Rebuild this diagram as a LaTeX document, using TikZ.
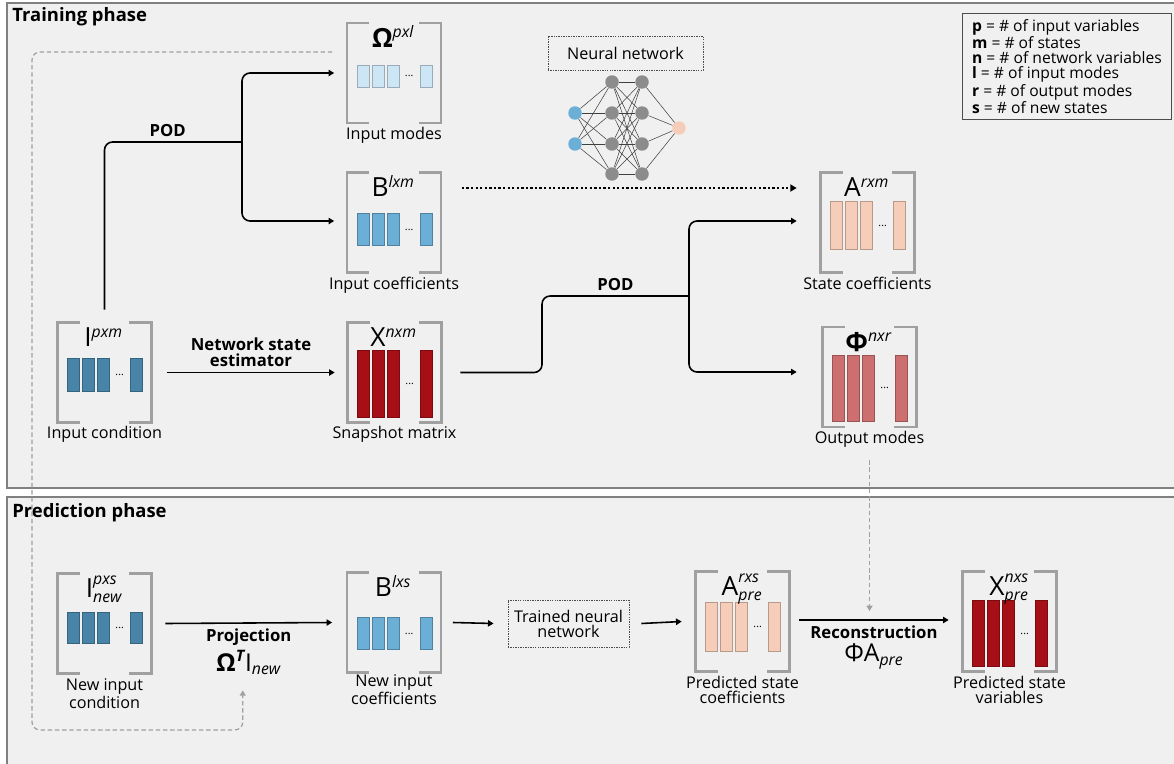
\documentclass[tikz,border=0pt]{standalone}
\usepackage{fontspec}
\setmainfont{Open Sans}
\usepackage[dvipsnames]{xcolor}
\usetikzlibrary{arrows.meta}
\usetikzlibrary{positioning}
\usetikzlibrary{calc}

\definecolor{panelgray}{HTML}{F0F0F0}
\definecolor{panelline}{HTML}{808080}
\definecolor{brktgray}{HTML}{A0A0A0}
\definecolor{modeblue}{HTML}{CDE6F6}
\definecolor{coefblue}{HTML}{6BAED6}
\definecolor{inpblue}{HTML}{4884A8}
\definecolor{snapred}{HTML}{A50F15}
\definecolor{statepeach}{HTML}{F5CDB8}
\definecolor{outred}{HTML}{CD6F6F}
\definecolor{neurongray}{HTML}{8C8C8C}
\definecolor{fbgray}{HTML}{A0A0A0}

\tikzset{
  panel/.style = {fill=panelgray, draw=panelline, line width=0.7pt},
  title/.style = {inner sep=0pt, font=\bfseries\fontsize{10.5}{12}\selectfont},
  mtx/.style = {minimum width=1.86cm, minimum height=1.98cm, inner sep=0pt},
  brkt/.style = {draw=brktgray, line width=1.4pt},
  col/.style = {fill=#1, draw=#1!75!black, line width=0.3pt},
  dots/.style = {inner sep=0pt, font=\fontsize{6}{6}\selectfont},
  mtxlabel/.style = {anchor=base, inner sep=0pt, font=\fontsize{15}{15}\selectfont},
  captxt/.style = {inner sep=0pt, align=center, font=\fontsize{9.2}{8.5}\selectfont},
  steptxt/.style = {inner sep=0pt, align=center, font=\bfseries\fontsize{9.5}{9}\selectfont},
  eqtxt/.style = {inner sep=0pt, font=\fontsize{14}{14}\selectfont},
  conn/.style = {draw=black, line width=0.9pt, rounded corners=0.16cm},
  arr/.style = {conn, -{Triangle[length=3.2pt,width=3.6pt]}},
  nnarr/.style = {draw=black, line width=1.3pt, dash pattern=on 1.3pt off 1.3pt,
                  -{Triangle[length=3.6pt,width=4pt]}},
  fb/.style = {draw=fbgray, line width=0.7pt, dash pattern=on 2.5pt off 1.6pt,
               rounded corners=0.16cm, -{Triangle[length=3pt,width=3.4pt]}},
  nnbox/.style = {draw=black!70, line width=0.5pt, dash pattern=on 0.8pt off 0.6pt,
                  align=center, font=\fontsize{9.2}{8.5}\selectfont},
  neuron/.style = {circle, fill=#1, inner sep=0pt, minimum size=0.27cm},
  nnline/.style = {draw=black!75, line width=0.3pt},
  keybox/.style = {draw=black!70, fill=panelgray, line width=0.6pt, align=left,
                   font=\fontsize{8.9}{8.5}\selectfont, minimum width=4.18cm,
                   minimum height=2.1cm, inner xsep=0.12cm},
}

\newcommand{\sx}[1]{\mbox{\fontsize{9}{9}\selectfont\itshape #1}}
% superscript over subscript, by hand
\newcommand{\supsub}[2]{\rlap{\raisebox{7.5pt}{\sx{#1}}}\raisebox{-2.5pt}{\sx{#2}}}
% matrix: name, position, column colour, column top, column bottom, label
\newcommand{\mtxbox}[6]{%
  \node[mtx] (#1) at #2 {};
  \draw[brkt] ([xshift=.44cm]#1.north west) -- (#1.north west) -- (#1.south west) -- ([xshift=.44cm]#1.south west);
  \draw[brkt] ([xshift=-.44cm]#1.north east) -- (#1.north east) -- (#1.south east) -- ([xshift=-.44cm]#1.south east);
  \foreach \cx in {10,25,40,73}
    \draw[col=#3] ($(#1.north west)+(\cx,#4)$) rectangle ++(12,#5-#4);
  \node[dots] at ($(#1.north west)+(62,{(#4+#5)/2})$) {...};
  \node[mtxlabel] at ($(#1.north west)+(46,24)$) {#6};
}

\begin{document}
\begin{tikzpicture}[x=0.02cm, y=-0.02cm]

  \useasboundingbox (0,0) rectangle (1174,764);
  \clip (0,0) rectangle (1174,764);

  % panels
  \draw[panel] (7,3) rectangle (1200,488);
  \draw[panel] (7,497) rectangle (1200,790);
  \node[title, anchor=base west] (trainttl) at (12,21) {Training phase};
  \node[title, anchor=base west] (predttl) at (12,517) {Prediction phase};

  % training phase
  \mtxbox{omega}{(394,73)}{modeblue}{42}{64}{\textbf{Ω}$^{\sx{pxl}}$}
  \mtxbox{bcoef}{(394,222.5)}{coefblue}{41}{73}{B$^{\sx{lxm}}$}
  \mtxbox{inp}{(104.5,372.5)}{inpblue}{36}{69}{I$^{\sx{pxm}}$}
  \mtxbox{snap}{(394.5,372.5)}{snapred}{28}{95}{X$^{\sx{nxm}}$}
  \mtxbox{acoef}{(867.5,222.5)}{statepeach}{29}{77}{A$^{\sx{rxm}}$}
  \mtxbox{phi}{(869.5,377)}{outred}{28}{94}{\textbf{Φ}$^{\sx{nxr}}$}

  \node[captxt, below=0.08cm of omega] (omegacap) {Input modes};
  \node[captxt, below=0.08cm of bcoef] (bcoefcap) {Input coefficients};
  \node[captxt, below=0.08cm of inp] (inpcap) {Input condition};
  \node[captxt, below=0.08cm of snap] (snapcap) {Snapshot matrix};
  \node[captxt, below=0.08cm of acoef] (acoefcap) {State coefficients};
  \node[captxt, below=0.08cm of phi] (phicap) {Output modes};

  \coordinate (podL) at (242,142);
  \coordinate (podR) at (689,296);

  \draw[conn] ([yshift=.26cm]inp.north) |- node[steptxt, pos=0.73, above=0.1cm] {POD} (podL);
  \draw[arr] (podL) |- ([xshift=-.26cm]omega.west);
  \draw[arr] (podL) |- ([xshift=-.26cm,yshift=.03cm]bcoef.west);

  \draw[arr] ([xshift=.32cm]inp.east) -- node[steptxt, above=0.1cm] {Network state\\estimator} ([xshift=-.26cm]snap.west);

  \draw[conn] ([xshift=.38cm]snap.east) -| ([xshift=-2.94cm]podR) -- node[steptxt, above=0.1cm] {POD} (podR);
  \draw[arr] (podR) |- ([xshift=-.48cm,yshift=.03cm]acoef.west);
  \draw[arr] (podR) |- ([xshift=-.52cm,yshift=.1cm]phi.west);

  \draw[nnarr] ([xshift=.42cm,yshift=.69cm]bcoef.east) -- ([xshift=-.48cm,yshift=.69cm]acoef.west);

  % neural network sketch
  \node[nnbox, minimum width=3.1cm, minimum height=.68cm] (nntitle) at (625.5,53) {Neural network};
  \node[neuron=coefblue] (in1) at (575,113) {};
  \node[neuron=coefblue] (in2) at (575,144) {};
  \foreach \j/\yy in {1/82,2/113,3/144,4/174} {
    \node[neuron=neurongray] (ha\j) at (612,\yy) {};
    \node[neuron=neurongray] (hb\j) at (642,\yy) {};
  }
  \node[neuron=statepeach] (out) at (679,128) {};
  \foreach \i in {1,2}
    \foreach \j in {1,...,4}
      \draw[nnline] (in\i) -- (ha\j);
  \foreach \i in {1,...,4}
    \foreach \j in {1,...,4}
      \draw[nnline] (ha\i) -- (hb\j);
  \foreach \j in {1,...,4}
    \draw[nnline] (hb\j) -- (out);

  % key
  \node[keybox, anchor=north west] (key) at (962,13) {\textbf{p} = \# of input variables\\\textbf{m} = \# of states\\\textbf{n} = \# of network variables\\\textbf{l} = \# of input modes\\\textbf{r} = \# of output modes\\\textbf{s} = \# of new states};

  % prediction phase
  \mtxbox{inpnew}{(104.5,623.5)}{inpblue}{39}{70}{I\supsub{pxs}{new}}
  \mtxbox{bnew}{(394,622.5)}{coefblue}{45}{77}{B$^{\sx{lxs}}$}
  \mtxbox{apre}{(742.5,621.5)}{statepeach}{31}{80}{A\supsub{rxs}{pre}}
  \mtxbox{xpre}{(1009.5,621.5)}{snapred}{29}{95}{X\supsub{nxs}{pre}}

  \node[captxt, below=0.1cm of inpnew] (inpnewcap) {New input\\condition};
  \node[captxt, below=0.03cm of bnew] (bnewcap) {New input\\coefficients};
  \node[captxt, below=0.1cm of apre] (aprecap) {Predicted state\\coefficients};
  \node[captxt, below=0.1cm of xpre] (xprecap) {Predicted state\\variables};

  \node[nnbox, minimum width=2.42cm, minimum height=.94cm] (trained) at (568.5,623.5) {Trained neural\\network};

  \draw[arr] ([xshift=.28cm]inpnew.east) -- node[steptxt, below=0.1cm] (projtxt) {Projection} ([xshift=-.3cm]bnew.west);
  \node[eqtxt, below=0.08cm of projtxt] (projeq) {\textbf{Ω}$^{\sx{\bfseries T}}$I$_{\sx{new}}$};
  \draw[arr] ([xshift=.24cm]bnew.east) -- ([xshift=-.28cm]trained.west);
  \draw[arr] ([xshift=.24cm]trained.east) -- ([xshift=-.28cm]apre.west);
  \draw[arr] ([xshift=.2cm,yshift=.03cm]apre.east) -- node[steptxt, below=0.1cm] (rectxt) {Reconstruction} coordinate[pos=0.48] (recmid) ([xshift=-.28cm,yshift=.03cm]xpre.west);
  \node[eqtxt, below=0.08cm of rectxt] (receq) {ΦA$_{\sx{pre}}$};

  % dashed links
  \coordinate (fbL) at (32,730);
  \draw[fb] ([xshift=-.3cm,yshift=.42cm]omega.west) -| (fbL) -| ([xshift=-.12cm,yshift=-.3cm]projeq.south);
  \path (phicap.south |- recmid) coordinate (rectip);
  \draw[fb] ([yshift=-.25cm]phicap.south) -- ([yshift=.18cm]rectip);

\end{tikzpicture}
\end{document}
